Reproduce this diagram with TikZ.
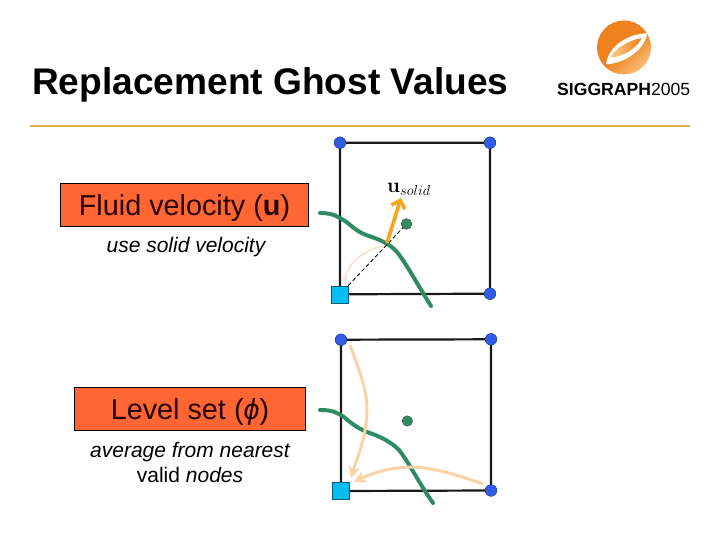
\documentclass[tikz,border=0pt]{standalone}
\usepackage[no-math]{fontspec}
\setmainfont{Liberation Sans}
\usetikzlibrary{arrows.meta}
\definecolor{boxred}{RGB}{255,102,51}
\definecolor{gold}{RGB}{222,178,80}
\definecolor{fluid}{RGB}{46,139,100}
\definecolor{dotblue}{RGB}{51,92,230}
\definecolor{sqblue}{RGB}{0,190,245}
\definecolor{peach}{RGB}{250,210,165}
\definecolor{paleorange}{RGB}{245,225,205}
\definecolor{arroworange}{RGB}{245,165,30}
\definecolor{logoA}{RGB}{252,205,140}
\definecolor{logoB}{RGB}{238,130,30}
\tikzset{
  labelbox/.style={draw=black,line width=0.8pt,fill=boxred,minimum height=43pt,inner sep=0pt,text height=24pt,text depth=3pt,font=\fontsize{28.8}{32}\selectfont,text=black!85!red},
  caption/.style={inner sep=0pt,font=\fontsize{21}{25}\selectfont\itshape,align=center},
  gridnode/.style={circle,fill=dotblue,draw=dotblue!70!black,line width=0.4pt,minimum size=11.5pt,inner sep=0pt},
  ghost/.style={rectangle,fill=sqblue,draw=sqblue!50!black,line width=0.5pt,minimum size=17pt,inner sep=0pt},
  center dot/.style={circle,fill=fluid,draw=black!70,line width=0.4pt,minimum size=10.5pt,inner sep=0pt},
  cell/.style={line width=2.2pt,black!90},
  iface/.style={line width=4pt,fluid,line cap=round},
  pale/.style={line width=3pt,peach,-{Stealth[length=12pt,width=12pt]}},
}
\begin{document}
\begin{tikzpicture}[x=1pt,y=-1pt]
\useasboundingbox (0,0) rectangle (720,540);
% title
\node[anchor=base west,inner sep=0pt,font=\fontsize{37.1}{40}\selectfont\bfseries] (title) at (32,95) {Replacement Ghost Values};
\coordinate (ruleL) at (30,126);
\coordinate (ruleR) at (690,126);
\draw[gold,line width=2pt] (ruleL) -- (ruleR);
% logo
\begin{scope}
\clip (624,47.5) circle (27);
\shade[top color=logoB,bottom color=logoA,middle color=logoB,shading angle=40] (590,15) rectangle (660,80);
\fill[white] (606,64.3) .. controls (608.3,45) and (630,33.3) .. (647.3,33.3) .. controls (645,48.3) and (626.7,63.3) .. (606,64.3) -- cycle;
\shade[left color=logoA,right color=logoB] (610,57.7) .. controls (616.7,46.7) and (631.7,39) .. (641.7,38.3) .. controls (636.7,48.3) and (623.3,56.7) .. (610,57.7) -- cycle;
\end{scope}
\node[anchor=base west,inner sep=0pt,font=\fontsize{17.6}{20}\selectfont] (logotext) at (557,96) {\textbf{SIGGRAPH}2005};
% left labels
\node[labelbox,minimum width=248pt] (b1) at (184.5,205) {Fluid velocity (\textbf{u})};
\node[caption] (c1) at (186,247.5) {use solid velocity};
\node[labelbox,minimum width=231pt] (b2) at (190,409) {Level set (\textit{ϕ})};
\node[caption] (c2) at (190,462.5) {average from nearest\\ \normalfont valid \itshape nodes};
% cell 1
\node[gridnode] (tl1) at (340,142.7) {};
\node[gridnode] (tr1) at (490,142.7) {};
\node[gridnode] (br1) at (490,293.7) {};
\node[ghost] (sq1) at (340,294.3) {};
\node[center dot] (dot1) at (406.5,224) {};
\coordinate (hit1) at (387,243);
\coordinate (tip1) at (401,198);
\coordinate (pal1) at (383,246);
\coordinate (pal1e) at (344,283);
\draw[cell] (sq1.center) -- (tl1.center) -- (tr1.center) -- (br1.center) -- cycle;
\node[ghost] at (sq1) {};
\node[gridnode] at (tl1) {};
\node[gridnode] at (tr1) {};
\node[gridnode] at (br1) {};
\draw[paleorange,line width=1.6pt,-{Stealth[length=6pt,width=6pt]}] (pal1) .. controls (362,251) and (349,262) .. (pal1e);
\draw[iface] (320,213) .. controls (334,213) and (338,217) .. (345,221) .. controls (352,226) and (356,231) .. (366,235) .. controls (378,239) and (389,243) .. (397,252) .. controls (406,263) and (422,292) .. (431,306);
\draw[dashed,line width=0.8pt,dash pattern=on 4pt off 2.5pt] (sq1) -- (dot1);
\node[center dot] at (dot1) {};
\draw[arroworange,line width=3.6pt,-{Straight Barb[length=7pt,width=14pt,line width=3.6pt]}] (hit1) -- (tip1);
\node[inner sep=0pt,font=\fontsize{22}{24}\selectfont] (usolid) at (409,189.5) {\(\mathbf{u}_{solid}\)};
% cell 2
\node[gridnode] (tl2) at (341,339.7) {};
\node[gridnode] (tr2) at (491,339.3) {};
\node[gridnode] (br2) at (491,490.5) {};
\node[ghost] (sq2) at (341,491) {};
\node[center dot] (dot2) at (407.3,421) {};
\draw[cell] (sq2.center) -- (tl2.center) -- (tr2.center) -- (br2.center) -- cycle;
\node[ghost] at (sq2) {};
\node[gridnode] at (tl2) {};
\node[gridnode] at (tr2) {};
\node[gridnode] at (br2) {};
\coordinate (p1s) at (350,345);
\coordinate (p1e) at (351,478);
\coordinate (p2s) at (483,484);
\coordinate (p2e) at (354,482);
\draw[iface] (320,410) .. controls (334,410) and (337,413) .. (344,417) .. controls (351,423) and (357,428) .. (367,432) .. controls (379,436) and (390,441) .. (399,450) .. controls (408,461) and (422,488) .. (433,503);
\draw[pale] (p1s) .. controls (360,372) and (367,390) .. (367,410) .. controls (367,435) and (358,455) .. (p1e);
\draw[pale] (p2s) .. controls (455,474) and (430,467) .. (412,467) .. controls (390,467) and (370,474) .. (p2e);
\end{tikzpicture}
\end{document}
